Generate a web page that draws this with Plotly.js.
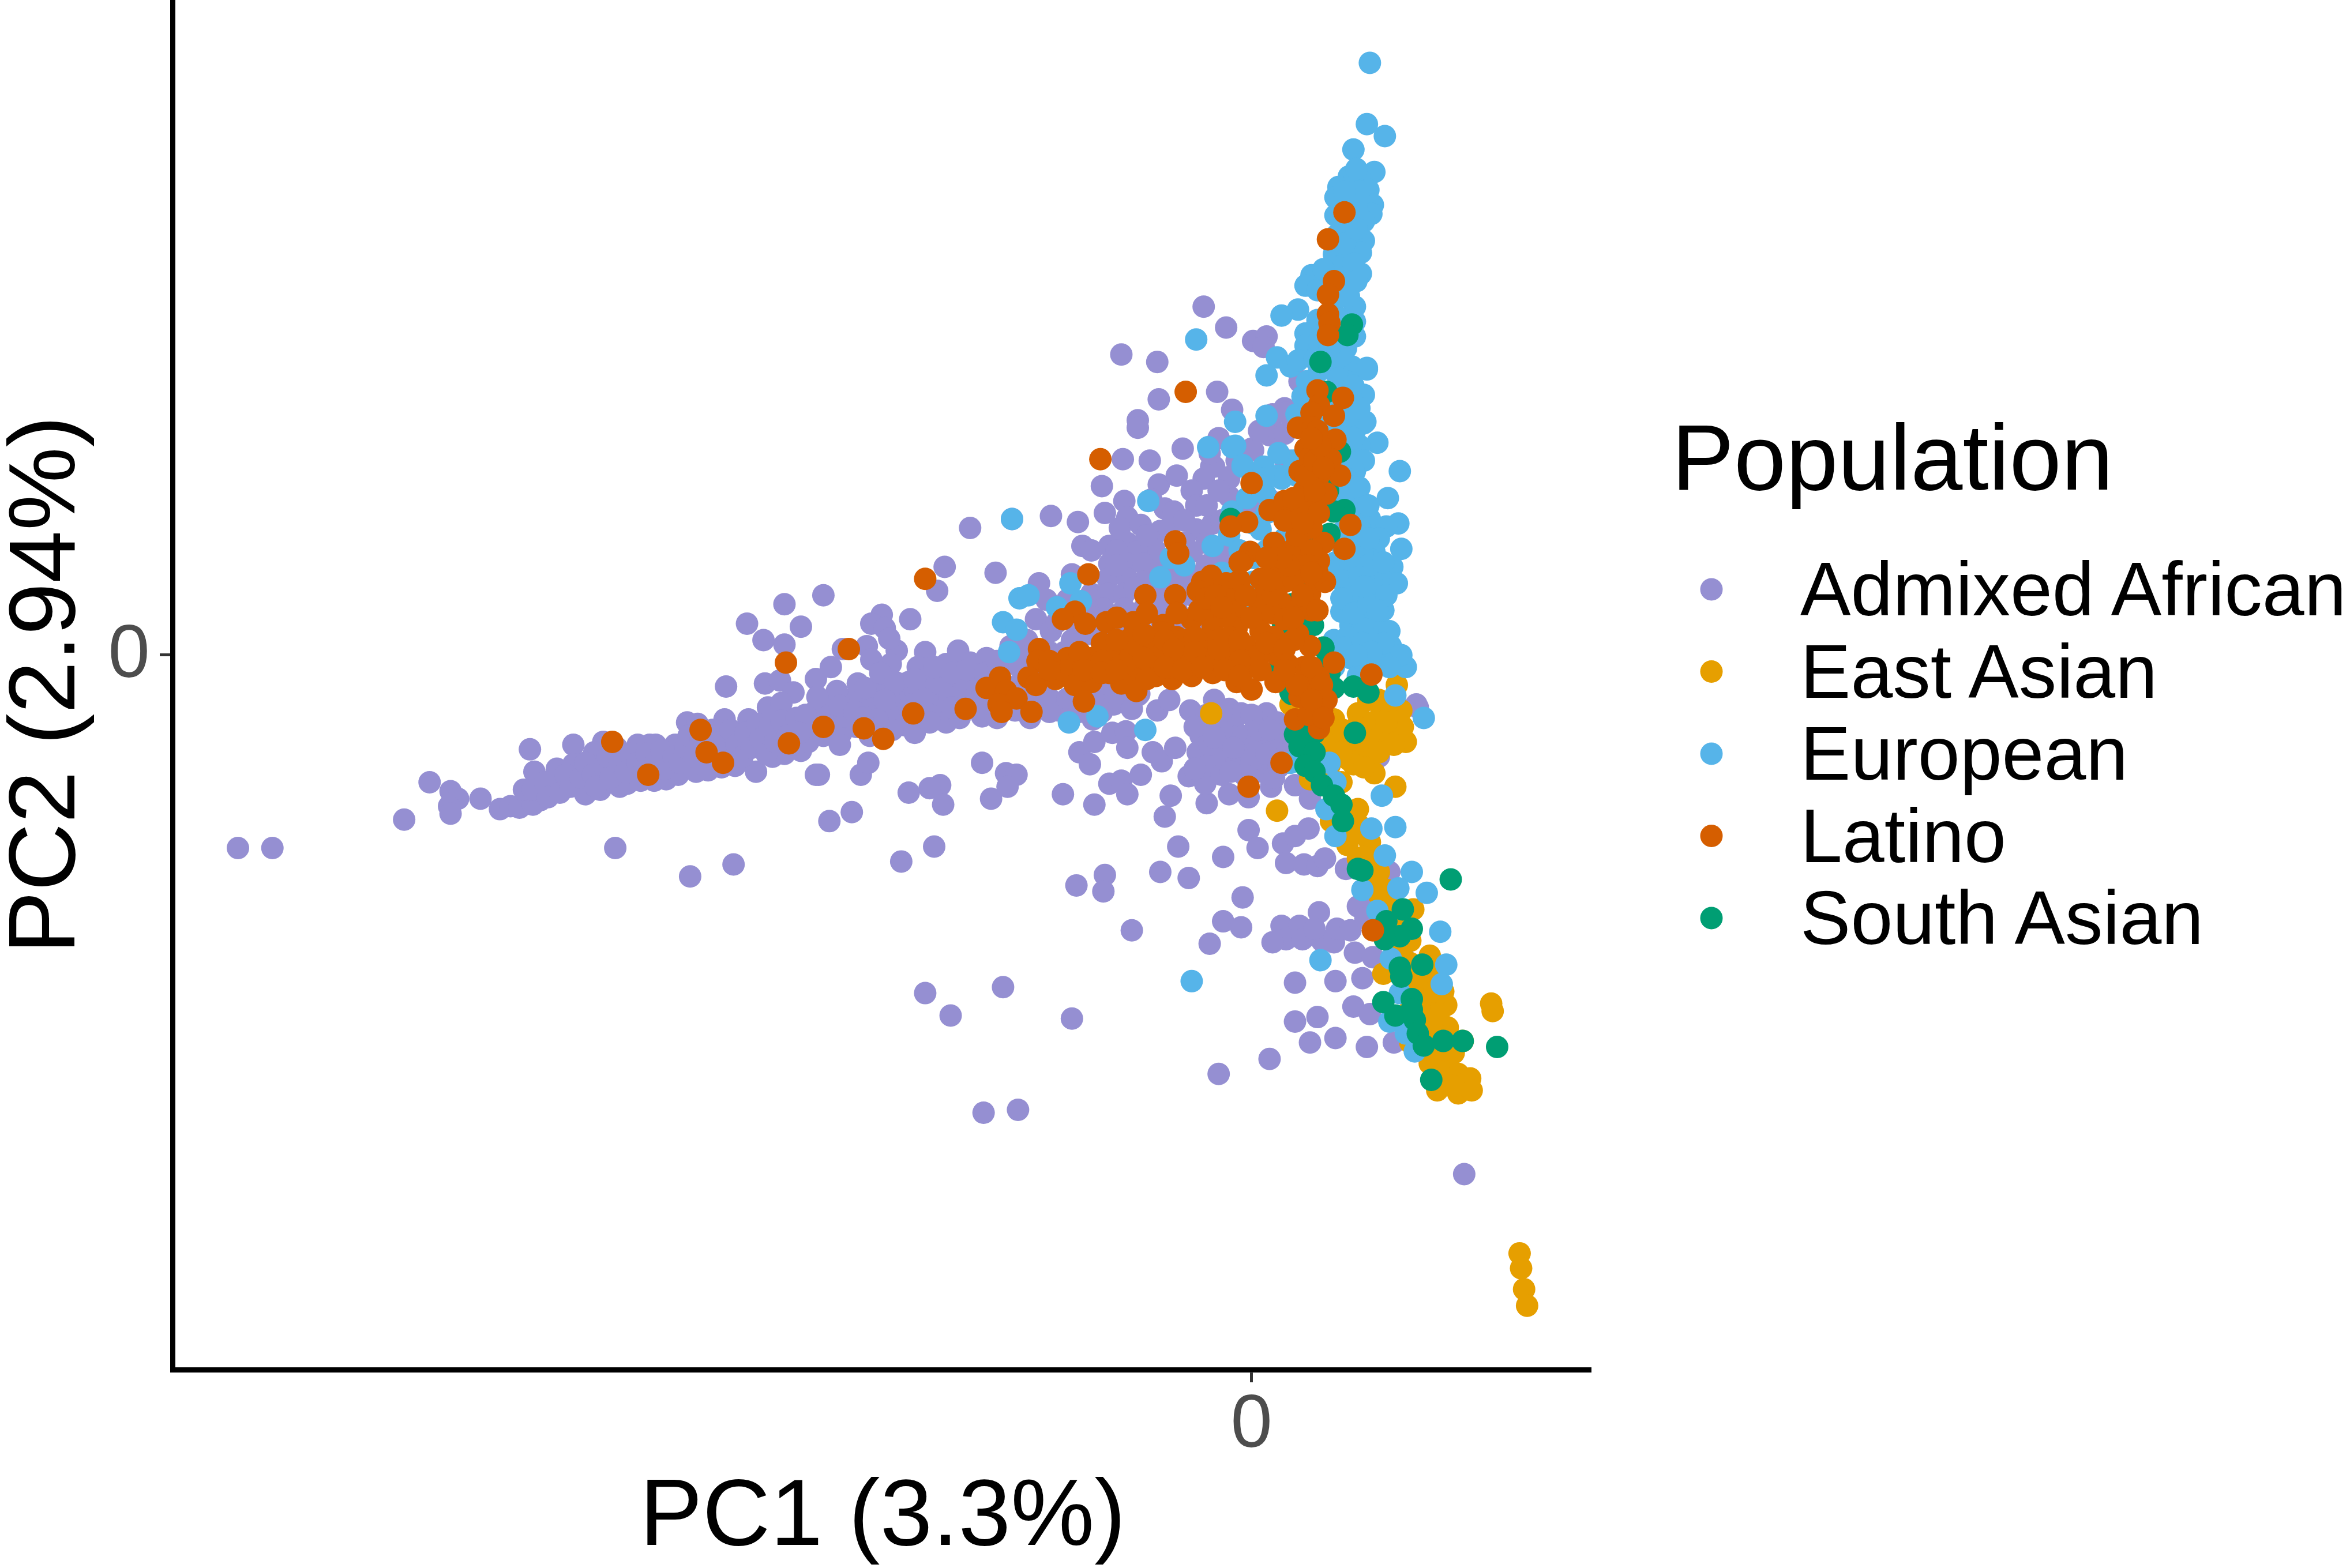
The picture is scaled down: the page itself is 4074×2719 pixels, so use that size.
<!DOCTYPE html>
<html><head><meta charset="utf-8">
<script src="https://cdn.plot.ly/plotly-3.0.1.min.js"></script>
<style>html,body{margin:0;padding:0;background:#fff}</style></head>
<body><div id="chart" style="width:4074px;height:2719px"></div>
<script>
const categories = ["Admixed African","East Asian","European","Latino","South Asian"];
const colors = ["#958FD2","#E69F00","#56B4E9","#D55E00","#009E73"];
const xTitle = "PC1 (3.3%)";
const yTitle = "PC2 (2.94%)";
const legendTitle = "Population";
const admixedAfrican = [[-677,-129],[-654,-129],[-566,-110],[-549,-85],[-535,-91],[-530,-96],[-536,-101],[-535,-106],[-515,-96],[-502,-103],[-495,-101],[-489,-102],[-480,-100],[-475,-97],[-486,-90],[-479,-78],[-482,-63],[-464,-76],[-464,-90],[-453,-60],[-453,-73],[-445,-93],[-435,-90],[-422,-88],[-417,-86],[-433,-58],[-439,-65],[-410,-60],[-402,-60],[-398,-60],[-385,-60],[-377,-45],[-370,-46],[-408,-84],[-399,-84],[-391,-83],[-383,-80],[-371,-78],[-363,-77],[-354,-75],[-345,-74],[-331,-78],[-352,-43],[-336,-43],[-320,-68],[-312,-66],[-301,-64],[-351,-21],[-325,-19],[-315,-17],[-306,-25],[-323,-35],[-314,-32],[-337,21],[-326,10],[-312,7],[-312,34],[-301,19],[-425,-129],[-375,-148],[-346,-140],[-289,-80],
[-480,-90],[-472,-85],[-470,-95],[-462,-92],[-458,-80],[-455,-88],[-448,-82],[-445,-72],[-440,-80],[-438,-88],[-432,-75],[-430,-68],[-428,-82],[-424,-62],[-422,-72],[-418,-78],[-414,-66],[-410,-72],[-406,-78],[-404,-66],[-398,-72],[-394,-64],[-392,-76],[-386,-68],[-382,-72],[-378,-62],[-376,-54],[-372,-68],[-368,-56],[-364,-64],[-360,-50],[-358,-70],[-354,-58],[-352,-66],[-348,-50],[-344,-60],[-340,-68],[-338,-52],[-334,-62],[-330,-46],[-328,-56],[-324,-66],[-322,-48],[-318,-58],[-314,-44],[-310,-54],[-306,-60],[-304,-42],[-300,-50],
[-296,-58],[-292,-38],[-290,-46],[-286,-54],[-282,-36],[-278,-46],[-274,-52],[-270,-30],[-268,-40],[-264,-48],[-260,-32],[-256,-42],[-252,-24],[-250,-36],[-246,-46],[-242,-30],[-238,-40],[-234,-20],[-232,-30],[-228,-42],[-224,-26],[-220,-36],[-216,-14],[-214,-24],[-210,-34],[-206,-18],[-202,-28],[-198,-8],[-196,-36],[-192,-20],[-188,-30],[-184,-10],[-180,-22],[-176,-32],[-170,-14],[-166,-26],[-160,-4],[-156,-20],[-150,-30],[-144,-8],[-140,-22],[-134,-30],
[-32,233],[-17,219],[1,210],[10,213],[8,206],[-87,201],[-63,196],[-62,171],[-23,176],[-13,164],[-76,157],[-76,152],[-46,138],[-22,145],[-86,131],[-68,130],[-27,126],[-100,113],[-62,114],[-50,120],[-32,118],[-15,118],[-40,110],[-15,106],[-85,103],[-98,95],[-67,104],[-58,98],[-52,96],[-37,100],[-83,92],[-88,85],[-74,87],[-61,83],[-37,84],[-188,85],[-160,91],[-134,93],[-116,89],[-205,59],[-171,55],[-210,43],[-286,40],[-142,48],[-120,54],[-113,73],[-107,70],[-95,73],[-83,75],[-65,71],[-77,69],[-95,61],[-83,61],[-72,61],[-53,59],[-40,69],[-96,51],[-83,51],[-72,49],[-56,49],[-40,53],[-107,41],[-96,41],[-85,41],[-72,31],[-58,31],[-85,31],[-99,31],[-110,31],[-123,37],[-137,37],[-144,24],[-228,24],[-247,27],[-254,21],[-245,18],[-257,6],[-237,3],[-242,11],[-254,-3],[-218,2],[-196,3],[-273,4],[-281,-8],[-241,-6],[-263,-19],[-277,-24],[-291,-16],[-223,-8],[-204,-6],[-188,-5],[-177,-2],[-161,6],[-150,10],[-134,16],[-120,10],[-107,14],[-247,-18],[-229,-18],[-210,-18],[-188,-16],[-172,-16],[-261,-29],[-242,-29],[-220,-29],[-202,-28],[-180,-29],[-288,-33],[-272,-41],[-250,-43],[-231,-47],[-204,-45],[-180,-41],[-158,-37],[-129,-37],[-140,-29],[-123,-29],[-99,-29],[-88,-29],[-75,-26],
[-291,-80],[-261,-80],[-256,-72],[-180,-72],[-164,-79],[-157,-80],[-163,-88],[-208,-87],[-215,-89],[-229,-92],[-206,-100],[-174,-96],[-126,-93],[-105,-100],[-267,-105],[-282,-111],[-212,-128],[-234,-138],[-95,-86],[-87,-84],[-83,-93],[-74,-80],[-54,-94],[-58,-108],[-42,-81],[-30,-99],[-31,-86],[-15,-93],[-2,-95],[13,-88],[29,-87],[39,-96],[-115,-65],[-108,-73],[-105,-58],[-93,-52],[-84,-51],[-83,-62],[-66,-65],[-60,-71],[-51,-62],[-63,-37],[-55,-30],[-41,-37],[-106,-43],[-92,-33],[-76,-27],[-34,-54],[-36,-65],[-30,-74],[2,-50],[-15,-56],[-19,-67],[-3,-61],[10,-56],[20,-61],[-9,-76],[7,-78],[-22,-45],[-15,-36],[-7,-39],[-25,-30],[10,-39],[17,-45],[23,-52],[85,-68],[111,-35],[-2,-117],[4,-129],[21,-126],[29,-121],[38,-116],[-49,-128],[-19,-135],[23,-139],[35,-140],[44,-141],[49,-136],[63,-143],[92,-145],[-117,-154],[-98,-147],[-99,-158],[-61,-145],[-42,-149],[-6,-162],[76,-163],[71,-168],[-80,-184],[-19,-178],[-7,-182],[-28,-193],[45,-172],[20,-181],[32,-181],[23,-190],[14,-192],[34,-190],[47,-191],[55,-192],[57,-183],[66,-184],[42,-183],[69,-199],[81,-202],[101,-201],[76,-176],[29,-219],[56,-218],[74,-216],[-166,-222],[-218,-226],[-201,-241],[-120,-243],[68,-235],[79,-240],[29,-245],[44,-242],[56,-256],[39,-259],[77,-262],[95,-259],[12,-270],[-22,-280],[-179,-306],[-156,-304],[142,-347],
[14,161],[22,165],[13,147],[1,137],[25,130],[12,104],[1,98],[-26,88],[-21,69],[82,36],[64,60],[110,-33],[33,183],[43,219],[66,267],[71,303],[44,219],[32,183],[14,160],[23,162],[12,147],[22,148],[0,138],[23,128],[-22,145],[-25,126],[-15,119],
[-26,-45],[-10,-52],[5,-62],[-25,-70],[-8,-68],[12,-70],[-20,-80],[0,-70],[25,-72],[35,-55],[38,-70],[30,-40],
[-90,70],[-70,80],[-55,85],[-45,75],[-30,75],[-60,60],[-45,50],[-30,60],[-20,60],[-90,60],[-78,45],[-62,40],[-50,30],[-40,40],[-90,22],[-75,20],[-60,22],[-45,20],[-30,40],[-20,90],[-45,90],[-30,100],[-22,110],[-10,95],[-28,135],[-10,130],[2,120],[5,150],[-105,25],[-118,22],[-130,22],[-95,15],[-80,12],[-55,14],[-35,18],
[-275,-34],[-265,-38],[-258,-22],[-248,-12],[-238,-18],[-225,-16],[-212,-8],[-200,-12],[-190,-10],[-178,-12],[-170,-4],[-155,-8],[-148,0],[-135,2],[-125,2],[-215,-40],[-240,-50],[-225,-52],[-195,-42],[-170,-42],[-148,-42],[-135,-38],[-115,-38],[-100,-38],[-80,-36],[-110,-24],[-95,-20],[-260,-42],[-290,-28],[-298,-40],[-302,-52],[-275,-60],[-255,-54],[-245,-30],[-215,-45],[-200,-35],[-170,-30],
[-20,-50],[-10,-40],[0,-40],[5,-50],[12,-50],[-28,-60],[-12,-62],[-25,-55],[-5,-80],[15,-82],[-30,-40],[-38,-48],[10,-66],[28,-65],[30,-50],[18,-75],[-14,-78],[-38,-76],[-20,-38]];
const eastAsian = [[97,-20],[26,-33],[55,-43],[71,-39],[87,-37],[100,-37],[80,-45],[93,-50],[101,-48],[103,-58],[63,-58],[71,-66],[76,-69],[68,-73],[82,-79],[56,-52],[53,-61],[61,-50],[74,-56],[87,-52],[96,-88],[17,-104],[60,-85],[52,-74],[39,-83],[71,-103],[72,-114],[53,-111],[79,-125],[64,-127],[71,-136],[79,-150],[90,-157],[93,-167],[108,-170],[106,-191],[119,-201],[88,-213],[106,-206],[119,-216],[128,-225],[130,-234],[115,-228],[122,-244],[131,-249],[117,-246],[125,-259],[141,-258],[135,-266],[119,-273],[131,-275],[138,-280],[146,-283],[124,-291],[138,-293],[147,-291],[160,-233],[161,-238],[106,-259],[112,-220],[106,-237],[-27,-39],[71,60],[48,5],[179,-400],[180,-410],[182,-424],[184,-435],
[78,-58],[85,-65],[70,-48],[65,-70],[60,-65],[90,-45],[75,-75],[95,-60],[110,-210],[115,-220],[122,-235],[110,-250],[125,-250],[130,-265],[127,-285],[113,-215],[118,-238],[124,-268],[112,-262],[100,-200],[85,-160],[85,-145],[75,-135],[68,-120],[62,-105],[60,-115],[80,-140],[95,-175],[100,-180],[90,-168],
[118,-210],[125,-240],[130,-255],[118,-255],[125,-278],[135,-288],[112,-235],[122,-225],[100,-190],[95,-185],[85,-30],[95,-30],[78,-30]];
const european = [[79,396],[77,355],[89,347],[68,338],[82,323],[65,320],[72,320],[58,313],[78,311],[56,306],[81,301],[66,309],[56,294],[80,295],[75,277],[57,281],[73,269],[55,268],[54,260],[73,255],[40,254],[36,247],[44,244],[62,246],[69,233],[55,236],[31,231],[20,227],[69,223],[44,224],[36,215],[69,213],[36,207],[63,205],[17,199],[10,187],[26,193],[31,197],[50,197],[67,193],[77,192],[37,183],[63,183],[75,174],[34,173],[62,165],[30,161],[76,156],[10,160],[69,150],[84,142],[65,138],[-11,156],[-11,140],[69,123],[99,123],[-6,126],[8,126],[18,120],[67,112],
[55,250],[65,240],[50,225],[60,225],[45,210],[55,210],[65,215],[45,190],[55,190],[40,175],[50,175],[60,175],[70,165],[45,160],[55,160],[40,150],[50,150],[60,150],[72,140],[45,140],[55,140],[35,130],[65,130],[75,130],[40,120],[55,125],[60,260],[65,270],[60,290],[70,300],[65,285],[75,290],[68,262],[62,298],[72,310],
[-37,211],[77,191],[75,155],[91,105],[79,91],[98,88],[90,86],[100,71],[94,59],[97,48],[85,54],[82,28],[74,77],[82,69],[68,124],[66,108],[-13,139],[-29,139],[-6,127],[-69,103],[-160,91],[-155,38],[-149,40],[-114,36],[-130,32],[-166,22],[-157,17],[-162,2],[-121,48],[-61,52],[-54,65],[-26,73],[-7,49],[-2,39],[1,88],[-13,96],[22,78],[6,84],[103,-8],[87,-6],[96,-27],[115,-42],[-71,-50],[-122,-45],[-103,-41],[82,10],[76,26],[66,20],[82,-2],[66,-2],[55,10],[71,10],[60,29],[55,-8],[93,6],[71,-14],[66,41],[79,41],[55,77],[66,88],[55,98],[69,98],[63,118],[9,108],[20,118],[1,49],[-10,43],[1,65],
[87,-94],[96,-115],[56,-121],[50,-103],[56,-85],[52,-72],[26,-72],[89,-134],[107,-145],[117,-159],[98,-156],[74,-157],[126,-185],[130,-207],[46,-204],[-40,-218],[93,-203],[127,-220],[80,-116],[84,-171],[99,-226],[92,-245],[109,-265],[103,-253],
[60,200],[52,205],[42,198],[58,185],[68,180],[50,165],[65,160],[72,165],[60,140],[68,145],[50,130],[60,118],[52,112],[62,105],[72,112],[72,98],[64,92],[78,100],[60,82],[72,85],[64,72],[74,68],[56,62],[66,62],[78,60],[60,50],[72,52],[84,44],[72,35],[60,38],[84,18],[92,16],[74,18],[64,12],[90,-2],[76,-6],[62,5],[-50,70],[-45,60],[-15,80],[-8,70],[-20,55],[10,70],[10,95],[20,100],[28,130],[18,135],[30,120],[40,112],[48,100],[-3,105],[8,118],[70,250],[48,258],[62,275],[70,285],[62,310],[70,325],
[68,28],[78,34],[88,30],[90,40],[75,46],[84,30],[74,8],[88,8],[100,0],[92,-8],[80,2],[70,0],[85,78],[88,62],[78,78]];
const latino = [[62,296],[51,278],[55,250],[51,241],[51,228],[52,222],[51,214],[44,177],[61,172],[45,167],[40,162],[55,160],[31,152],[41,152],[56,144],[36,138],[39,132],[53,131],[32,123],[45,120],[59,120],[0,115],[-44,176],[-101,131],[-51,76],[-49,68],[-3,89],[-14,86],[12,97],[22,103],[39,102],[50,108],[66,87],[24,92],[33,82],[62,71],[48,75],[15,75],[-1,69],[-6,63],[28,71],[45,63],[-109,54],[-218,51],[-71,40],[-51,40],[-27,53],[-33,49],[-36,43],[-17,48],[-14,37],[6,51],[22,49],[9,41],[39,41],[49,49],[-26,30],[-10,29],[6,29],[-118,29],[-126,24],[-111,21],[-97,22],[-79,22],[-59,20],[-40,24],[-26,20],[-10,18],[6,16],[31,14],[39,6],[-269,4],[-142,4],[-143,-4],[-149,-15],[-144,-20],[-131,-16],[-123,-2],[-126,-10],[-118,-20],[-107,-18],[-112,-31],[-107,-2],[-91,-2],[-80,12],[-67,8],[-50,12],[-80,-10],[-87,-19],[-77,-24],[-64,-14],[-53,-16],[-40,-14],[-26,-12],[-32,0],[-15,-2],[-45,0],[-61,0],[-4,6],[-10,-18],[0,-23],[17,0],[28,10],[35,-8],[16,-18],[39,-18],[45,-29],[47,-37],[55,-5],[45,-49],[29,-43],[-168,-15],[-177,-22],[-164,-24],[-157,-29],[-169,-33],[-167,-38],[-147,-38],[-191,-36],[-226,-39],[-259,-49],[-286,-48],[-246,-56],[-427,-58],[-403,-80],[-368,-50],[-364,-65],[-353,-72],[-309,-59],[-311,-5],
[-70,-5],[-55,-8],[-40,-5],[-25,-2],[-10,5],[-5,-10],[5,0],[15,12],[-80,2],[-95,-12],[-60,15],[-45,10],[-30,10],[-15,12],[5,30],[20,35],[30,30],[40,30],[30,60],[35,55],[40,85],[30,95],[40,70],[35,110],[45,95],[20,-72],[-2,-88],[80,-13],[81,-184],[47,-37],[48,-30],
[-90,25],[-70,28],[-50,28],[-35,30],[-18,26],[-100,8],[-90,10],[-72,14],[-58,10],[-38,12],[-22,10],[-8,10],[-135,-4],[-115,2],[-100,-4],[-85,-6],[-72,-2],[-52,4],[-38,2],[-22,4],[-8,-4],[10,8],[22,4],[-135,-10],[-112,-10],[-100,-12],[-90,-10],[-70,-16],[-58,-8],[-46,-10],[-33,-8],[-18,-10],[-8,-14],[6,-10],[24,-6],
[-30,38],[-24,40],[-20,32],[0,25],[14,28],[22,24],[14,40],[28,50],[16,55],[-8,50],[-4,40],[34,40],[44,30],[30,80],[38,60],[25,60],[44,55],[20,65],[10,65],[-8,62],[22,90],[28,105],[34,88],[42,110],[36,120],[42,130],[46,140],[44,150],[48,125],[40,145],[28,25],[12,50],[40,55],[45,-15],[40,-8],[32,-28],[38,-40],[47,-20],[50,-30],[30,-20],[22,-10],[40,-30],[48,-42]];
const southAsian = [[67,221],[64,214],[46,196],[50,176],[47,133],[59,136],[47,135],[51,110],[62,97],[55,96],[44,96],[-14,91],[52,81],[41,79],[35,69],[32,49],[27,34],[35,32],[41,30],[21,21],[41,20],[-14,4],[16,7],[48,5],[17,-11],[27,-26],[41,-31],[47,-8],[52,-12],[55,-22],[68,-21],[78,-25],[69,-52],[29,-53],[39,-53],[32,-61],[26,-25],[32,-52],[42,-52],[36,-60],[42,-65],[36,-74],[42,-78],[47,-87],[55,-94],[60,-100],[61,-111],[71,-143],[74,-144],[133,-150],[101,-170],[90,-178],[107,-183],[99,-188],[89,-190],[99,-209],[114,-207],[100,-215],[88,-232],[107,-230],[96,-241],[109,-244],[111,-253],[115,-261],[128,-258],[141,-258],[164,-262],[120,-284],[107,-237]];
const seriesData = [admixedAfrican,eastAsian,european,latino,southAsian];
const drawOrder = [0,1,2,4,3];
const W=4074,H=2719;
const pointSize=39;
const traces = drawOrder.map(i=>({type:"scatter",mode:"markers",name:categories[i],
  x:seriesData[i].map(p=>p[0]),y:seriesData[i].map(p=>p[1]),
  marker:{color:colors[i],size:pointSize,line:{width:0}},hoverinfo:"name",cliponaxis:false,showlegend:false}));
traces.push({type:"scatter",mode:"markers",xaxis:"x2",yaxis:"y2",name:"Population",
  x:categories.map(()=>0),y:categories.map((c,i)=>i),
  marker:{color:colors,size:39,line:{width:0}},hoverinfo:"skip",showlegend:false});
const fontFam='"Liberation Sans",Arial,Helvetica,sans-serif';
const annotations = categories.map((c,i)=>({text:c,xref:"paper",yref:"y2",x:3119/W,y:i,xanchor:"left",yanchor:"middle",showarrow:false,font:{family:fontFam,size:131,color:"#000"}}));
annotations.push({text:legendTitle,xref:"paper",yref:"paper",x:2896/W,y:1-793/H,xanchor:"left",yanchor:"middle",showarrow:false,font:{family:fontFam,size:162,color:"#000"}});
annotations.push({text:xTitle,xref:"paper",yref:"paper",x:1530/W,y:1-2622/H,xanchor:"center",yanchor:"middle",showarrow:false,font:{family:fontFam,size:163,color:"#000"}});
annotations.push({text:yTitle,xref:"paper",yref:"paper",x:72/W,y:1-1188/H,xanchor:"center",yanchor:"middle",textangle:-90,showarrow:false,font:{family:fontFam,size:163,color:"#000"}});
const layout={width:W,height:H,margin:{l:0,r:0,t:0,b:0},paper_bgcolor:"#fff",plot_bgcolor:"rgba(0,0,0,0)",showlegend:false,font:{family:fontFam},
 xaxis:{domain:[303.5/W,2759/W],range:[-719,227],tickvals:[0],ticktext:["0"],showgrid:false,zeroline:false,showline:true,linecolor:"#000",linewidth:8.5,ticks:"outside",ticklen:18,tickwidth:5,tickcolor:"#333",ticklabelstandoff:-44,tickfont:{family:fontFam,size:130,color:"#4D4D4D"},anchor:"y"},
 yaxis:{domain:[1-2370.5/H,1],range:[-476,438],tickvals:[0],ticktext:["0"],showgrid:false,zeroline:false,showline:true,linecolor:"#000",linewidth:8.5,ticks:"outside",ticklen:18,tickwidth:5,tickcolor:"#333",ticklabelstandoff:-9,ticklabelshift:-7,tickfont:{family:fontFam,size:130,color:"#4D4D4D"},anchor:"x"},
 xaxis2:{domain:[2800/W,1],range:[-167,1107],visible:false,anchor:"y2",fixedrange:true},
 yaxis2:{domain:[1-1750/H,1-900/H],range:[5.109,-0.856],visible:false,anchor:"x2",fixedrange:true},
 annotations:annotations};
Plotly.newPlot("chart",traces,layout,{displayModeBar:false,responsive:false});
</script></body></html>
